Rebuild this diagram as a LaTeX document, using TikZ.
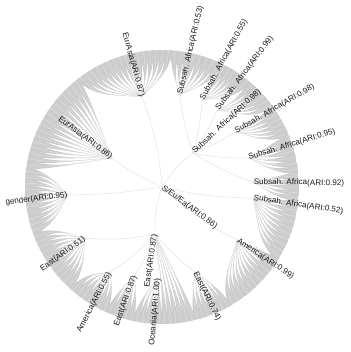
\documentclass[tikz,border=0pt]{standalone}
\usepackage{fontspec}
\setmainfont{Liberation Sans}
\usetikzlibrary{calc}
\newcommand{\fanleaves}[4]{%
  \foreach \k in {1,...,#4}{%
    \pgfmathsetmacro{\th}{#2+(\k-0.5)*(#3-#2)/#4}%
    \pgfmathsetmacro{\hw}{0.75*(#3-#2)/#4}%
    \pgfmathsetmacro{\ta}{\th-\hw}%
    \pgfmathsetmacro{\tb}{\th+\hw}%
    \fill[fanfill] (#1) .. controls ($(#1)!0.45!(\th:120)$) and (\th:110) .. (\ta:137)
       arc[start angle=\ta, end angle=\tb, radius=137]
       .. controls (\th:110) and ($(#1)!0.45!(\th:120)$) .. (#1) -- cycle;
  }}
\newcommand{\fanedges}[4]{%
  \foreach \k in {1,...,#4}{%
    \pgfmathsetmacro{\th}{#2+(\k-0.5)*(#3-#2)/#4}%
    \draw[edge] (#1) .. controls ($(#1)!0.45!(\th:120)$) and (\th:110) .. (\th:137);
  }}
\begin{document}
\begin{tikzpicture}[x=1pt,y=1pt,
  fanfill/.style={fill=black!20},
  edge/.style={draw=black!12, line width=0.45pt},
  lbl/.style={font=\fontsize{8.1}{10}\selectfont, inner sep=0.6pt, text=black!90}]
\useasboundingbox (-162,-165) rectangle (188,187);
% cluster nodes
\coordinate (root) at (0,0);
\coordinate (EA87) at (-20,90);
\coordinate (EA86) at (-50,29);
\coordinate (gen) at (-94,-8);
\coordinate (E51) at (-77,-51);
\coordinate (Am55) at (-52,-85);
\coordinate (E87b) at (-27,-88);
\coordinate (Oce) at (-4,-91);
\coordinate (E87c) at (-7,-47);
\coordinate (E74) at (33,-85);
\coordinate (Am99) at (75,-53);
\coordinate (SA52) at (91,-11);
\coordinate (SA92) at (91,5);
\coordinate (SA95) at (86,29);
\coordinate (SA98) at (73,55);
\coordinate (SA96) at (31,34);
\coordinate (SA99) at (55,77);
\coordinate (SA55) at (40,87);
\coordinate (SA53) at (18,92);
% gray fans
\begin{scope}
\clip (root) circle (137);
\fanleaves{SA92}{-6}{6}{5}
\fanleaves{SA95}{6}{22}{6}
\fanleaves{SA98}{22}{36}{6}
\fanleaves{SA99}{36}{50}{6}
\fanleaves{SA55}{50}{64}{6}
\fanleaves{SA53}{64}{86}{8}
\fanleaves{EA87}{86}{128}{16}
\fanleaves{EA86}{128}{172}{17}
\fanleaves{gen}{172}{200}{11}
\fanleaves{E51}{200}{228}{11}
\fanleaves{Am55}{228}{246}{7}
\fanleaves{E87b}{246}{258}{5}
\fanleaves{Oce}{258}{270}{5}
\fanleaves{E87c}{270}{284}{6}
\fanleaves{E74}{284}{300}{7}
\fanleaves{Am99}{300}{328}{11}
\fanleaves{SA52}{328}{354}{10}
\end{scope}
% leaf edges
\fanedges{SA92}{-6}{6}{5}
\fanedges{SA95}{6}{22}{6}
\fanedges{SA98}{22}{36}{6}
\fanedges{SA99}{36}{50}{6}
\fanedges{SA55}{50}{64}{6}
\fanedges{SA53}{64}{86}{8}
\fanedges{EA87}{86}{128}{16}
\fanedges{EA86}{128}{172}{17}
\fanedges{gen}{172}{200}{11}
\fanedges{E51}{200}{228}{11}
\fanedges{Am55}{228}{246}{7}
\fanedges{E87b}{246}{258}{5}
\fanedges{Oce}{258}{270}{5}
\fanedges{E87c}{270}{284}{6}
\fanedges{E74}{284}{300}{7}
\fanedges{Am99}{300}{328}{11}
\fanedges{SA52}{328}{354}{10}
% inner tree edges
\draw[edge] (root) to[bend left=6] (EA86);
\draw[edge] (root) to[bend left=4] (gen);
\draw[edge] (root) to[bend right=8] (EA87);
\draw[edge] (root) to[bend right=10] (E87c);
\draw[edge] (root) to[bend left=10] (SA96);
\draw[edge] (root) to[bend right=6] (SA52);
\draw[edge] (root) to[bend right=8] (Am99);
\draw[edge] (E87c) to[bend left=8] (E51);
\draw[edge] (E87c) to[bend left=8] (Am55);
\draw[edge] (E87c) to[bend left=6] (E87b);
\draw[edge] (E87c) to[bend left=4] (Oce);
\draw[edge] (E87c) to[bend right=6] (E74);
\draw[edge] (SA96) to[bend right=6] (SA92);
\draw[edge] (SA96) to[bend right=6] (SA95);
\draw[edge] (SA96) to[bend right=6] (SA98);
\draw[edge] (SA96) to[bend right=6] (SA99);
\draw[edge] (SA96) to[bend right=6] (SA55);
\draw[edge] (SA96) to[bend left=6] (SA53);
% labels
\node[lbl, anchor=west, rotate=-36.5] (lroot) at (root) {S/Eu/Ea(ARI:0.86)};
\node[lbl, anchor=east, rotate=-74.8] (lEA87) at (EA87) {EurAsia(ARI:0.87)};
\node[lbl, anchor=east, rotate=-36.9] (lEA86) at (EA86) {EurAsia(ARI:0.86)};
\node[lbl, anchor=east, rotate=7] (lgen) at (gen) {gender(ARI:0.95)};
\node[lbl, anchor=east, rotate=36] (lE51) at (E51) {East(ARI:0.51)};
\node[lbl, anchor=east, rotate=62.6] (lAm55) at (Am55) {America(ARI:0.55)};
\node[lbl, anchor=east, rotate=70] (lE87b) at (E87b) {East(ARI:0.87)};
\node[lbl, anchor=east, rotate=81.7] (lE87c) at (E87c) {East(ARI:0.87)};
\node[lbl, anchor=east, rotate=85] (lOce) at (Oce) {Oceania(ARI:1.00)};
\node[lbl, anchor=west, rotate=-64] (lE74) at (E74) {East(ARI:0.74)};
\node[lbl, anchor=west, rotate=-33.7] (lAm99) at (Am99) {America(ARI:0.99)};
\node[lbl, anchor=west, rotate=-8.5] (lSA52) at (SA52) {Subsah. Africa(ARI:0.52)};
\node[lbl, anchor=west, rotate=-1] (lSA92) at (SA92) {Subsah. Africa(ARI:0.92)};
\node[lbl, anchor=west, rotate=17] (lSA95) at (SA95) {Subsah. Africa(ARI:0.95)};
\node[lbl, anchor=west, rotate=30] (lSA98) at (SA98) {Subsah. Africa(ARI:0.98)};
\node[lbl, anchor=west, rotate=43] (lSA96) at (SA96) {Subsah. Africa(ARI:0.98)};
\node[lbl, anchor=west, rotate=53] (lSA99) at (SA99) {Subsah. Africa(ARI:0.99)};
\node[lbl, anchor=west, rotate=61.5] (lSA55) at (SA55) {Subsah. Africa(ARI:0.55)};
\node[lbl, anchor=west, rotate=76.7] (lSA53) at (SA53) {Subsah. Africa(ARI:0.53)};
\end{tikzpicture}
\end{document}
